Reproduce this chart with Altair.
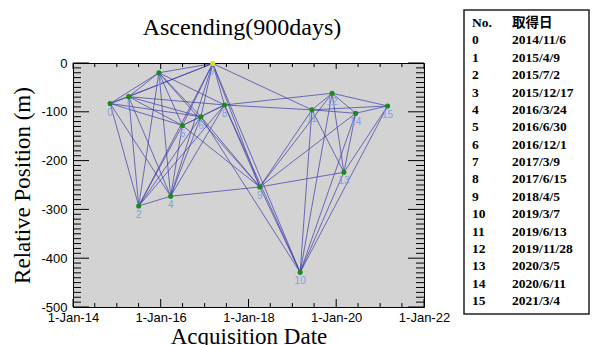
import altair as alt
import pandas as pd

# ---------------- data ----------------
nos = list(range(16))
acq_dates = ["2014-11-06", "2015-04-09", "2015-07-02", "2015-12-17", "2016-03-24",
             "2016-06-30", "2016-12-01", "2017-03-09", "2017-06-15", "2018-04-05",
             "2019-03-07", "2019-06-13", "2019-11-28", "2020-03-05", "2020-06-11",
             "2021-03-04"]
date_labels = ["2014/11/6", "2015/4/9", "2015/7/2", "2015/12/17", "2016/3/24",
               "2016/6/30", "2016/12/1", "2017/3/9", "2017/6/15", "2018/4/5",
               "2019/3/7", "2019/6/13", "2019/11/28", "2020/3/5", "2020/6/11",
               "2021/3/4"]
rel_pos = [-83, -69, -293, -20, -273, -128, -110, -1, -86, -254,
           -429, -96, -62, -224, -103, -88]

# interferometric pairs (from, to)
edge_from = [0, 0, 0, 0, 0, 0, 0,
             1, 1, 1, 1, 1, 1, 1,
             2, 2, 2, 2, 2, 2,
             3, 3, 3, 3, 3, 3,
             4, 4, 4, 4, 4,
             5, 5, 5, 5,
             6, 6, 6, 6,
             7, 7, 7, 7,
             8, 8, 8, 8,
             9, 9, 9, 9, 9,
             10, 10, 10, 10, 10,
             11, 11, 11, 11,
             12, 12, 12,
             13, 13,
             14]
edge_to = [1, 2, 3, 4, 5, 6, 7,
           2, 3, 4, 5, 6, 7, 8,
           3, 4, 5, 6, 7, 8,
           4, 5, 6, 7, 8, 9,
           5, 6, 7, 8, 9,
           6, 7, 8, 9,
           7, 8, 9, 10,
           8, 9, 10, 11,
           9, 10, 11, 12,
           10, 11, 12, 13, 14,
           11, 12, 13, 14, 15,
           12, 13, 14, 15,
           13, 14, 15,
           14, 15,
           15]

chart_title = "Ascending(900days)"
x_title = "Acquisition Date"
y_title = "Relative Position (m)"
x_major_ticks = ["2014-01-01", "2016-01-01", "2018-01-01", "2020-01-01", "2022-01-01"]
x_minor_ticks = ["2014-07-01", "2015-01-01", "2015-07-01", "2016-07-01", "2017-01-01",
                 "2017-07-01", "2018-07-01", "2019-01-01", "2019-07-01", "2020-07-01",
                 "2021-01-01", "2021-07-01"]
y_major_ticks = [-500, -400, -300, -200, -100, 0]
y_minor_ticks = [v for v in range(-490, 0, 10) if v % 100 != 0]

table_header = ["No.", "取得日"]

# ---------------- geometry / styles ----------------
W, H = 351, 244
X_START, X_END = "2014-01-01", "2022-01-01"
Y_MIN, Y_MAX = -500, 0
SERIF = "Liberation Serif, Times New Roman, serif"
SANS = "Liberation Sans, Arial, sans-serif"
TFONT = SERIF + ", Noto Sans CJK JP"

# pixel tick lengths converted to data units
DAYS_PER_PX = (pd.Timestamp(X_END) - pd.Timestamp(X_START)).days / W
UNITS_PER_PX = (Y_MAX - Y_MIN) / H


def dt(s):
    t = pd.Timestamp(s)
    return alt.DateTime(year=t.year, month=t.month, date=t.day, utc=True)


def shift_date(d, px):
    t = pd.Timestamp(d) + pd.Timedelta(days=px * DAYS_PER_PX)
    return t.strftime("%Y-%m-%dT%H:%M:%SZ")


# ---------------- tables ----------------
pts = pd.DataFrame({"no": nos, "date": acq_dates, "pos": rel_pos})

seg_rows = []
for a, b in zip(edge_from, edge_to):
    seg_rows.append({"kind": "pair", "d1": acq_dates[a], "p1": rel_pos[a],
                     "d2": acq_dates[b], "p2": rel_pos[b]})
# inward frame ticks (same segment layer)
for ticks, lb, lt in [(x_major_ticks, 8, 6), (x_minor_ticks, 4, 4)]:
    for t in ticks:
        seg_rows.append({"kind": "tick", "d1": t, "p1": Y_MIN, "d2": t,
                         "p2": Y_MIN + lb * UNITS_PER_PX})
        seg_rows.append({"kind": "tick", "d1": t, "p1": Y_MAX, "d2": t,
                         "p2": Y_MAX - lt * UNITS_PER_PX})
for ticks, ln in [(y_major_ticks, 16), (y_minor_ticks, 8)]:
    for v in ticks:
        seg_rows.append({"kind": "tick", "d1": X_START, "p1": v,
                         "d2": shift_date(X_START, ln), "p2": v})
        seg_rows.append({"kind": "tick", "d1": X_END, "p1": v,
                         "d2": shift_date(X_END, -ln), "p2": v})
segs = pd.DataFrame(seg_rows)

rows = pd.DataFrame({
    "row": [-1] + nos,
    "c1": [table_header[0]] + [str(n) for n in nos],
    "c2": [table_header[1]] + date_labels,
})

# ---------------- scales / axes ----------------
xscale = alt.Scale(type="utc", domain=[dt(X_START), dt(X_END)])
yscale = alt.Scale(domain=[Y_MIN, Y_MAX], nice=False, zero=False)

xaxis = alt.Axis(values=[dt(s) for s in x_major_ticks],
                 format="%-d-%b-%y", labelFlush=False, labelOverlap=False,
                 labelFont=SANS, labelFontSize=13, labelColor="black", labelPadding=4,
                 ticks=False, domain=False, grid=False,
                 titleFont=SERIF, titleFontSize=23, titleFontWeight="normal",
                 titleColor="black", titlePadding=1)
yaxis = alt.Axis(values=y_major_ticks, labelExpr="'' + datum.value",
                 labelFlush=False, labelOverlap=False,
                 labelFont=SANS, labelFontSize=13, labelColor="black", labelPadding=6,
                 ticks=False, domain=False, grid=False,
                 titleFont=SERIF, titleFontSize=23, titleFontWeight="normal",
                 titleColor="black", titlePadding=6)

# ---------------- layers ----------------
is_tick = alt.datum.kind == "tick"
seg_layer = alt.Chart(segs).mark_rule(strokeWidth=1).encode(
    x=alt.X("d1:T", scale=xscale, axis=xaxis, title=x_title),
    y=alt.Y("p1:Q", scale=yscale, axis=yaxis, title=y_title),
    x2="d2:T",
    y2="p2:Q",
    color=alt.condition(is_tick, alt.value("black"), alt.value("#3a3aa8")),
    opacity=alt.condition(is_tick, alt.value(1), alt.value(0.7)),
)

point_layer = alt.Chart(pts).mark_circle(size=26, opacity=1).encode(
    x=alt.X("date:T", scale=xscale, axis=None),
    y=alt.Y("pos:Q", scale=yscale, axis=None),
    color=alt.condition(alt.datum.no == 7, alt.value("#d8e010"), alt.value("#1b8a1b")),
)

label_layer = alt.Chart(pts).mark_text(dy=9, fontSize=10, font=SANS, color="#7f9ee8").encode(
    x=alt.X("date:T", scale=xscale, axis=None),
    y=alt.Y("pos:Q", scale=yscale, axis=None),
    text="no:N",
)

# chart title (text mark above the plot)
title_layer = alt.Chart(pd.DataFrame({"ttl": [chart_title]})).mark_text(
    font=SERIF, fontSize=24, color="black", align="center", baseline="alphabetic"
).encode(text="ttl:N", x=alt.value(169), y=alt.value(-28))

# acquisition-date table on the right
TX0, TX1, TY0, TY1 = 391, 516, -53, 251
box_layer = alt.Chart(pd.DataFrame({"b": [0]})).mark_rect(
    fill="white", stroke="#222222", strokeWidth=1.5
).encode(x=alt.value(TX0), x2=alt.value(TX1), y=alt.value(TY0), y2=alt.value(TY1))

tscale = alt.Scale(domain=[1.302, 15.345], reverse=True, nice=False, zero=False)
col1 = alt.Chart(rows).mark_text(align="left", baseline="middle", font=TFONT,
                                 fontSize=13.5, fontWeight="bold", color="black").encode(
    y=alt.Y("row:Q", scale=tscale, axis=None), x=alt.value(TX0 + 8), text="c1:N")
col2 = alt.Chart(rows).mark_text(align="left", baseline="middle", font=TFONT,
                                 fontSize=13.5, fontWeight="bold", color="black").encode(
    y=alt.Y("row:Q", scale=tscale, axis=None), x=alt.value(TX0 + 48), text="c2:N")

chart = alt.layer(
    seg_layer, point_layer, label_layer, title_layer, box_layer, col1, col2
).resolve_scale(y="independent").resolve_axis(x="independent", y="independent").properties(
    width=W, height=H,
    view=alt.ViewBackground(fill="#d3d3d3", stroke="black", strokeWidth=1),
    padding={"left": 3, "top": 1, "right": 0, "bottom": 0},
    background="white",
)

chart.save("out.html", embed_options={"renderer": "svg", "actions": False})
